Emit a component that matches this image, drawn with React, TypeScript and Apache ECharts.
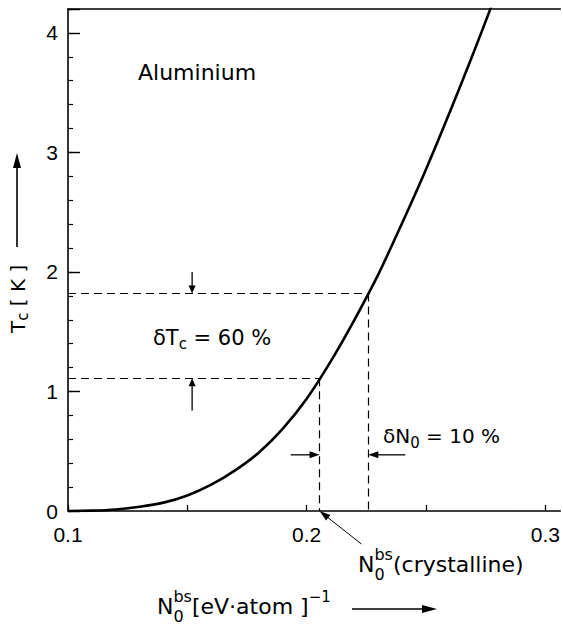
import React, { useEffect, useRef } from "react";
import * as echarts from "echarts";

// Curve: Tc [K] vs N0^bs [eV·atom]^-1 (Aluminium)
const nValues = [0.1, 0.11, 0.12, 0.13, 0.14, 0.15, 0.16, 0.17, 0.18, 0.19, 0.2, 0.21, 0.22, 0.23, 0.24, 0.25, 0.26, 0.27, 0.28];
const tcValues = [0, 0.003, 0.013, 0.035, 0.07, 0.13, 0.22, 0.34, 0.49, 0.69, 0.94, 1.25, 1.6, 1.98, 2.41, 2.86, 3.34, 3.84, 4.36];

// Guide points (on the curve)
const lowPoint = [0.2054, 1.11];
const highPoint = [0.2258, 1.82];

// Axis settings
const xMin = 0.1;
const xMax = 0.30625;
const xStep = 0.05;
const yMin = 0;
const yMax = 4.2;
const yStep = 1;
const yMinorStep = 0.2;

// Annotation arrows (data coordinates: [from, to])
const dTcArrows = [
  [[0.152, 2.0], [0.152, 1.82]],
  [[0.152, 0.84], [0.152, 1.11]],
];
const dN0Arrows = [
  [[0.1933, 0.47], [0.2054, 0.47]],
  [[0.2413, 0.47], [0.2258, 0.47]],
];
const pointerArrow = [[0.2229, -0.276], [0.2054, 0]];

const FONT = '"DejaVu Sans", sans-serif';
const TICK_FONT = '"Liberation Sans", Arial, sans-serif';

let measureCtx: CanvasRenderingContext2D | null = null;
function tw(text: string, size: number): number {
  if (!measureCtx) measureCtx = document.createElement("canvas").getContext("2d");
  measureCtx!.font = `${size}px "DejaVu Sans"`;
  return measureCtx!.measureText(text).width;
}

type Part = { t: string; s: number; dy?: number };

function compose(x: number, y: number, parts: (Part | Part[])[], rotation = 0) {
  const children: any[] = [];
  let cx = 0;
  for (const p of parts) {
    const group = Array.isArray(p) ? p : [p];
    let adv = 0;
    for (const q of group) {
      children.push({
        type: "text",
        x: cx,
        y: q.dy || 0,
        style: {
          text: q.t,
          font: `${q.s}px ${FONT}`,
          fill: "#000",
          align: "left",
          verticalAlign: "middle",
        },
      });
      adv = Math.max(adv, tw(q.t, q.s));
    }
    cx += adv;
  }
  return { type: "group", x, y, rotation, children, silent: true };
}

function arrow(p0: number[], p1: number[], head: number, halfW: number, lw: number) {
  const dx = p1[0] - p0[0];
  const dy = p1[1] - p0[1];
  const len = Math.sqrt(dx * dx + dy * dy) || 1;
  const ux = dx / len;
  const uy = dy / len;
  const bx = p1[0] - ux * head;
  const by = p1[1] - uy * head;
  const nx = -uy;
  const ny = ux;
  return [
    {
      type: "line",
      silent: true,
      shape: { x1: p0[0], y1: p0[1], x2: bx + ux * 1, y2: by + uy * 1 },
      style: { stroke: "#000", lineWidth: lw },
    },
    {
      type: "polygon",
      silent: true,
      shape: {
        points: [
          [p1[0], p1[1]],
          [bx + nx * halfW, by + ny * halfW],
          [bx - nx * halfW, by - ny * halfW],
        ],
      },
      style: { fill: "#000" },
    },
  ];
}

export default function App() {
  const ref = useRef<HTMLDivElement>(null);

  useEffect(() => {
    if (!ref.current) return;
    const chart = echarts.init(ref.current, null, { renderer: "svg" });

    const isLabel = (v: number) => Math.abs(v * 10 - Math.round(v * 10)) < 1e-6;

    chart.setOption({
      animation: false,
      backgroundColor: "#fff",
      grid: { left: 68, top: 9, right: 0, bottom: 116, containLabel: false },
      xAxis: [
        {
          type: "value",
          min: xMin,
          max: xMax,
          interval: xStep,
          position: "bottom",
          axisLine: { show: true, onZero: false, lineStyle: { color: "#000", width: 1.6 } },
          axisTick: { show: true, inside: true, length: 6, lineStyle: { color: "#000", width: 1.3 } },
          axisLabel: {
            margin: 13,
            color: "#000",
            fontSize: 21,
            fontFamily: TICK_FONT,
            showMaxLabel: false,
            formatter: (v: number) => (isLabel(v) && v < 0.305 ? v.toFixed(1) : ""),
          },
          splitLine: { show: false },
        },
        {
          type: "value",
          min: xMin,
          max: xMax,
          interval: xStep,
          position: "top",
          axisLine: { show: true, onZero: false, lineStyle: { color: "#000", width: 1.6 } },
          axisTick: { show: false },
          axisLabel: { show: false },
          splitLine: { show: false },
        },
      ],
      yAxis: [
        {
          type: "value",
          min: yMin,
          max: yMax,
          interval: yStep,
          position: "left",
          axisLine: { show: true, onZero: false, lineStyle: { color: "#000", width: 1.6 } },
          axisTick: { show: true, inside: true, length: 12, lineStyle: { color: "#000", width: 1.4 } },
          axisLabel: {
            margin: 10,
            color: "#000",
            fontSize: 21,
            fontFamily: TICK_FONT,
            formatter: (v: number) => (Math.abs(v - Math.round(v)) < 1e-6 ? String(Math.round(v)) : ""),
          },
          splitLine: { show: false },
        },
        {
          type: "value",
          min: yMin,
          max: yMax,
          interval: yMinorStep,
          position: "left",
          axisLine: { show: false },
          axisTick: { show: true, inside: true, length: 5, lineStyle: { color: "#000", width: 1.2 } },
          axisLabel: { show: false },
          splitLine: { show: false },
        },
      ],
      series: [
        {
          type: "line",
          xAxisIndex: 0,
          yAxisIndex: 0,
          data: nValues.map((n, i) => [n, tcValues[i]]),
          showSymbol: false,
          symbol: "none",
          smooth: 0.3,
          clip: true,
          lineStyle: { color: "#000", width: 2.6 },
          markLine: {
            silent: true,
            symbol: "none",
            label: { show: false },
            lineStyle: { color: "#000", width: 1.2, type: [8, 5] },
            data: [
              [{ coord: [xMin, highPoint[1]] }, { coord: [highPoint[0], highPoint[1]] }],
              [{ coord: [highPoint[0], highPoint[1]] }, { coord: [highPoint[0], yMin] }],
              [{ coord: [xMin, lowPoint[1]] }, { coord: [lowPoint[0], lowPoint[1]] }],
              [{ coord: [lowPoint[0], lowPoint[1]] }, { coord: [lowPoint[0], yMin] }],
            ],
          },
        },
      ],
    });

    const px = (p: number[]) => chart.convertToPixel({ seriesIndex: 0 }, p) as number[];

    const graphics: any[] = [];
    for (const [a, b] of dTcArrows) graphics.push(...arrow(px(a), px(b), 8, 3.5, 1.3));
    for (const [a, b] of dN0Arrows) graphics.push(...arrow(px(a), px(b), 10, 3.5, 1.3));
    graphics.push(...arrow(px(pointerArrow[0]), px(pointerArrow[1]), 11, 3.5, 1));

    // axis title arrows
    graphics.push(...arrow([17, 247], [17, 153], 15, 4, 1.6));
    graphics.push(...arrow([352, 609], [437, 609], 15, 4, 1.6));

    // texts
    graphics.push(compose(138, 72, [{ t: "Aluminium", s: 22 }]));
    graphics.push(
      compose(153, 338, [
        { t: "δT", s: 21 },
        { t: "c", s: 15, dy: 6 },
        { t: " = 60 %", s: 21 },
      ])
    );
    graphics.push(
      compose(383, 436, [
        { t: "δN", s: 20 },
        { t: "0", s: 15, dy: 7 },
        { t: " = 10 %", s: 20 },
      ])
    );
    graphics.push(
      compose(358, 564, [
        { t: "N", s: 22 },
        [
          { t: "bs", s: 16, dy: -10 },
          { t: "0", s: 16, dy: 10 },
        ],
        { t: "(crystalline)", s: 22 },
      ])
    );
    graphics.push(
      compose(157, 606, [
        { t: "N", s: 22 },
        [
          { t: "bs", s: 16, dy: -10 },
          { t: "0", s: 16, dy: 10 },
        ],
        { t: "[eV·atom ]", s: 22 },
        { t: "−1", s: 15, dy: -9 },
      ])
    );
    graphics.push(
      compose(
        18,
        333,
        [
          { t: "T", s: 20 },
          { t: "c", s: 15, dy: 5 },
          { t: " [ K ]", s: 20 },
        ],
        Math.PI / 2
      )
    );

    chart.setOption({ graphic: graphics });

    return () => chart.dispose();
  }, []);

  return (
    <div
      ref={ref}
      style={{ position: "fixed", left: 0, top: 0, width: 563, height: 627, background: "#fff" }}
    />
  );
}
